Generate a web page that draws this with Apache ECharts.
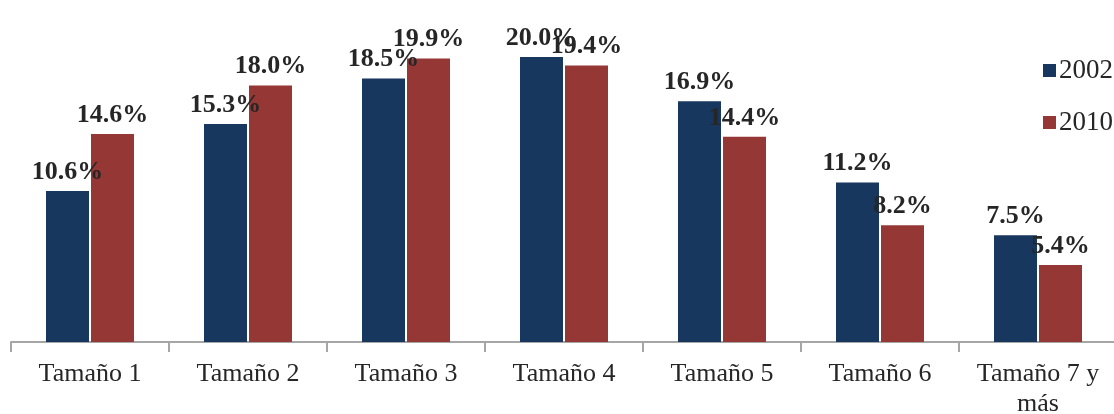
<!DOCTYPE html>
<html>
<head>
<meta charset="utf-8">
<script src="https://cdn.jsdelivr.net/npm/echarts@6/dist/echarts.min.js"></script>
<style>html,body{margin:0;padding:0;background:#fff;}#c{width:1114px;height:414px;}</style>
</head>
<body>
<div id="c"></div>
<script>
const categories = ['Tamaño 1','Tamaño 2','Tamaño 3','Tamaño 4','Tamaño 5','Tamaño 6','Tamaño 7 y\nmás'];
const values2002 = [10.6, 15.3, 18.5, 20.0, 16.9, 11.2, 7.5];
const values2010 = [14.6, 18.0, 19.9, 19.4, 14.4, 8.2, 5.4];
const seriesNames = ['2002', '2010'];

const FONT = '"Liberation Serif", "DejaVu Serif", serif';
const chart = echarts.init(document.getElementById('c'));
const labelStyle = {
  show: true, position: 'top', distance: 6,
  fontFamily: FONT, fontWeight: 'bold', fontSize: 26, color: '#262626',
  formatter: p => p.value.toFixed(1) + '%'
};
chart.setOption({
  animation: false,
  backgroundColor: '#fff',
  grid: { left: 11, width: 1106, top: 57, bottom: 72, containLabel: false, outerBoundsMode: 'none' },
  legend: {
    orient: 'vertical', right: 1, top: 57, padding: 0, itemWidth: 13, itemHeight: 13, itemGap: 25,
    icon: 'rect',
    textStyle: { fontFamily: FONT, fontSize: 27, color: '#262626', padding: [0,0,0,-2] },
    data: seriesNames
  },
  xAxis: {
    type: 'category', data: categories,
    axisLine: { show: true, lineStyle: { color: '#a6a6a6', width: 2 } },
    axisTick: { show: true, length: 10, interval: 0, lineStyle: { color: '#a6a6a6', width: 2 } },
    axisLabel: { fontFamily: FONT, fontSize: 26, color: '#262626', margin: 17, lineHeight: 30, interval: 0 }
  },
  yAxis: { type: 'value', min: 0, max: 20, show: false, splitLine: { show: false } },
  series: [
    { name: seriesNames[0], type: 'bar', data: values2002, barWidth: 43, barGap: '4.65%',
      itemStyle: { color: '#17375e' }, label: labelStyle },
    { name: seriesNames[1], type: 'bar', data: values2010, barWidth: 43,
      itemStyle: { color: '#953735' }, label: labelStyle }
  ]
});
</script>
</body>
</html>
